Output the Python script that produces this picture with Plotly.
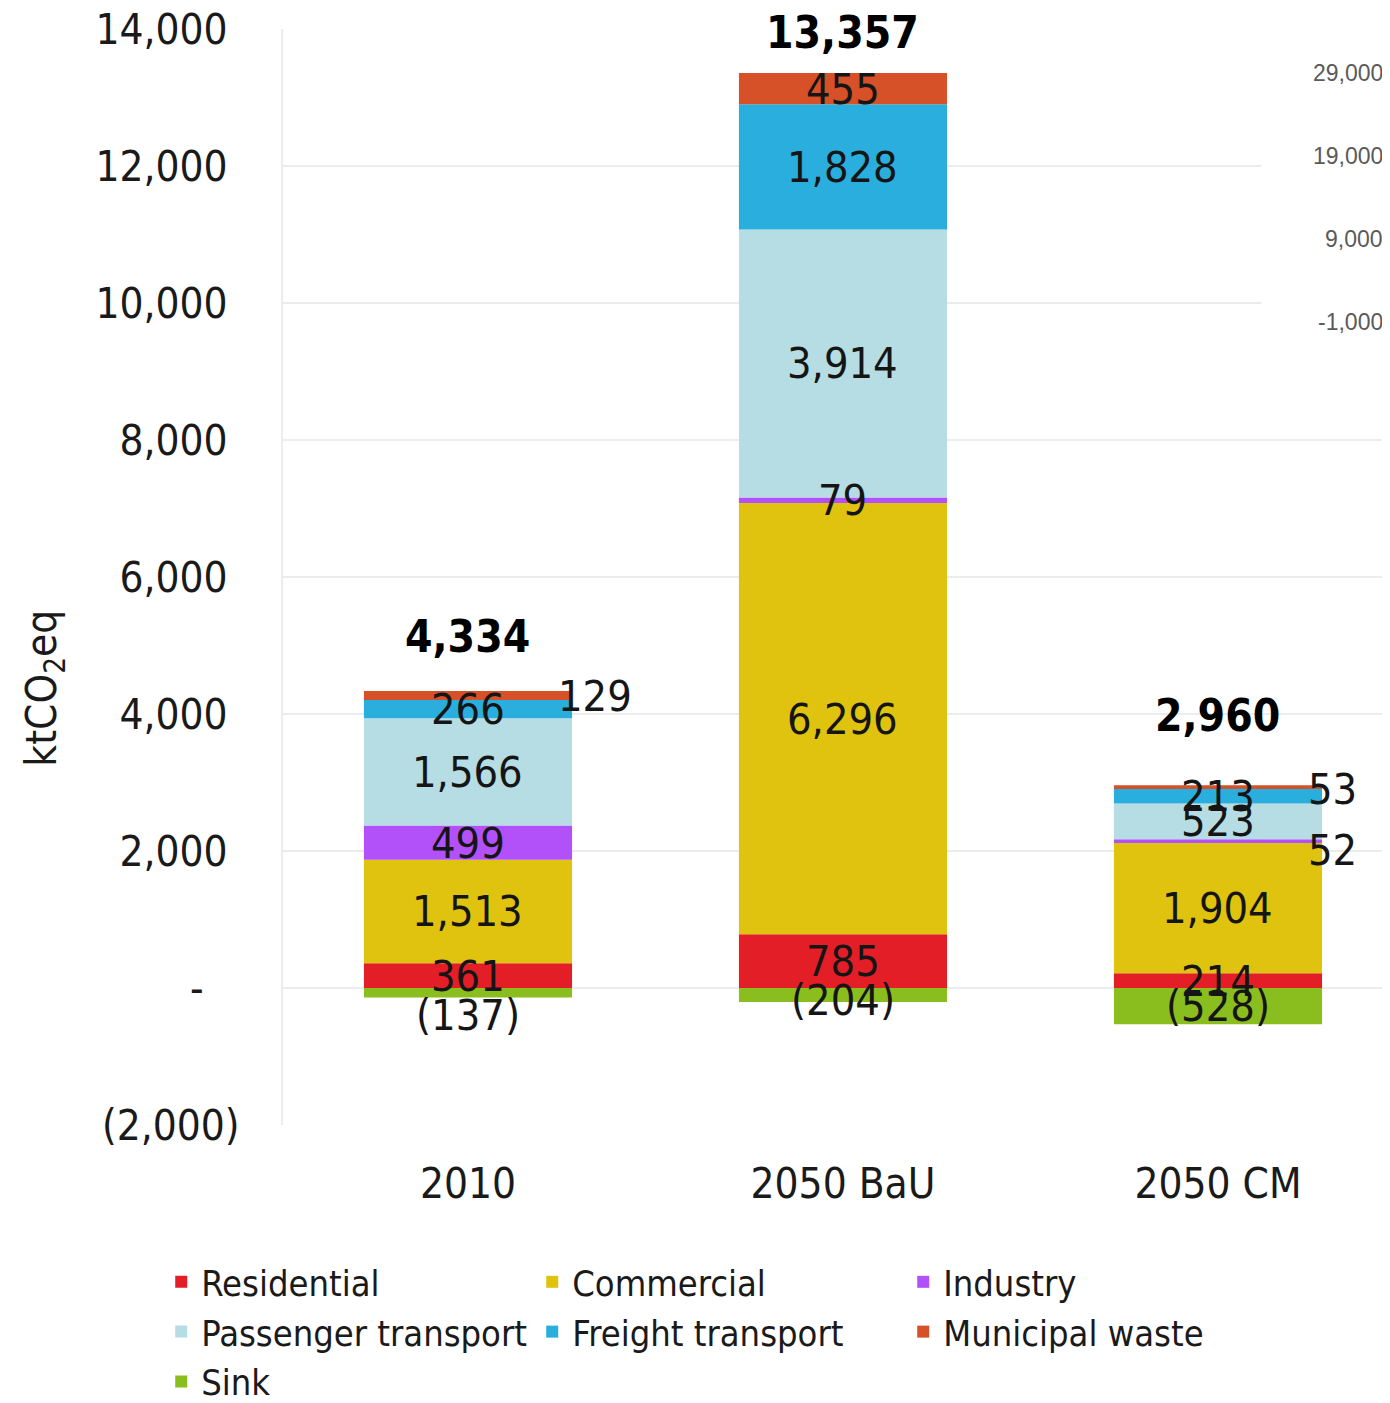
import plotly.graph_objects as go

# ---------------- data ----------------
categories = ["2010", "2050 BaU", "2050 CM"]
residential = [361, 785, 214]
commercial = [1513, 6296, 1904]
industry = [499, 79, 52]
passenger = [1566, 3914, 523]
freight = [266, 1828, 213]
municipal = [129, 455, 53]
sink = [-137, -204, -528]
totals = [4334, 13357, 2960]

y_ticks = [-2000, 0, 2000, 4000, 6000, 8000, 10000, 12000, 14000]
y2_ticks = [29000, 19000, 9000, -1000]

series = [
    ("Residential", residential, "#E41E26"),
    ("Commercial", commercial, "#DFC30F"),
    ("Industry", industry, "#B251FA"),
    ("Passenger transport", passenger, "#B6DDE4"),
    ("Freight transport", freight, "#29AEDE"),
    ("Municipal waste", municipal, "#D65028"),
    ("Sink", sink, "#8ABE1E"),
]

FONT = "DejaVu Sans Condensed, DejaVu Sans, sans-serif"


def acct(v):
    if v == 0:
        return "-\u2007\u00a0"
    if v < 0:
        return f"({abs(v):,})"
    return f"{v:,}\u00a0"


fig = go.Figure()
for name, vals, col in series:
    fig.add_trace(go.Bar(
        x=categories, y=vals, name=name, marker=dict(color=col, line=dict(width=0)),
        hoverinfo="skip",
    ))
# empty trace that keeps the secondary (right) value axis alive
fig.add_trace(go.Scatter(x=[], y=[], yaxis="y2", showlegend=False, hoverinfo="skip"))

annotations = []
outside_right = {("Municipal waste", 0), ("Municipal waste", 2), ("Industry", 2)}
label_shift = {("Sink", 0): -22, ("Sink", 1): -5, ("Industry", 2): -9, ("Municipal waste", 2): -2}
for i, cat in enumerate(categories):
    base = 0
    for name, vals, col in series:
        v = vals[i]
        if v >= 0:
            mid = base + v / 2
            base += v
        else:
            mid = v / 2
        txt = f"({abs(v):,})" if v < 0 else f"{v:,}"
        ann = dict(x=i, y=mid, xref="x", yref="y", text=txt, showarrow=False,
                   font=dict(family=FONT, size=43, color="#151515"),
                   yshift=label_shift.get((name, i), 0))
        if (name, i) in outside_right:
            ann.update(xanchor="left", xshift=88)
        annotations.append(ann)

total_shift = [55, 41, 70]
for i, cat in enumerate(categories):
    annotations.append(dict(x=i, y=totals[i], xref="x", yref="y", text=f"<b>{totals[i]:,}</b>",
                            showarrow=False, yshift=total_shift[i],
                            font=dict(family=FONT, size=44, color="#000000")))

# secondary-axis labels (positioned on the y2 scale)
for v in y2_ticks:
    annotations.append(dict(x=1, y=v, xref="paper", yref="y2", text=f"{v:,}", xanchor="right",
                            xshift=-5, showarrow=False,
                            font=dict(family="Liberation Sans, Arial, sans-serif", size=23,
                                      color="#5a5a5a")))

annotations.append(dict(x=-0.215, y=0.399, xref="paper", yref="paper", xanchor="center",
                        yanchor="middle", text="ktCO<sub>2</sub>eq", textangle=-90,
                        showarrow=False, font=dict(family=FONT, size=42, color="#1a1a1a")))

fig.update_layout(
    width=1382, height=1395,
    margin=dict(l=275, r=0, t=21, b=278, autoexpand=False),
    paper_bgcolor="white", plot_bgcolor="white",
    barmode="relative", bargap=0.445,
    font=dict(family=FONT, size=40, color="#1a1a1a"),
    showlegend=True,
    legend=dict(orientation="h", x=-0.110, xanchor="left", y=-0.1158, yanchor="top",
                font=dict(family=FONT, size=36, color="#1a1a1a"),
                entrywidth=326, entrywidthmode="pixels", traceorder="normal",
                bgcolor="rgba(0,0,0,0)"),
    xaxis=dict(type="category", range=[-0.4933, 2.4587], showgrid=False, zeroline=False,
               showline=False, ticks="", ticklabelstandoff=30,
               tickfont=dict(family=FONT, size=42, color="#1a1a1a")),
    yaxis=dict(range=[-2000, 14000], tickvals=y_ticks, ticktext=[acct(v) for v in y_ticks],
               showgrid=True, gridcolor="#ECECEC", gridwidth=2, zeroline=False,
               showline=True, linecolor="#ECECEC", linewidth=2, ticks="",
               ticklabelstandoff=33, ticklabeloverflow="allow",
               tickfont=dict(family=FONT, size=42, color="#1a1a1a")),
    yaxis2=dict(overlaying="y", side="right", anchor="x", range=[-97627, 34301],
                showticklabels=False, showgrid=False, zeroline=False, showline=False,
                ticks=""),
    shapes=[dict(type="rect", xref="paper", yref="paper", x0=0.884, x1=1.01, y0=0.638, y1=1.03,
                 fillcolor="white", line=dict(width=0), layer="above")],
    annotations=annotations,
)

fig.write_html("out.html")
